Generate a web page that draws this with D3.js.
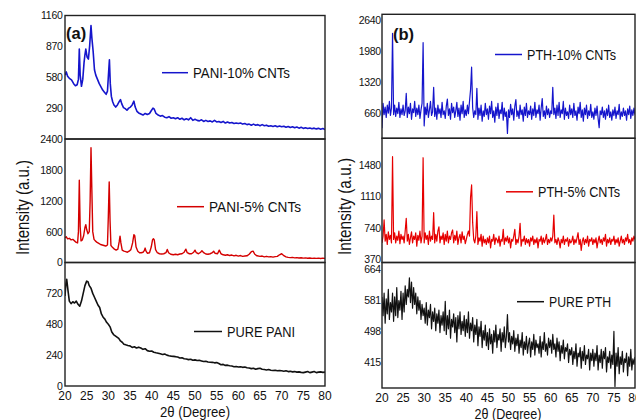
<!DOCTYPE html>
<html>
<head>
<meta charset="utf-8">
<script src="https://cdn.jsdelivr.net/npm/d3@7"></script>
<style>
  body { margin: 0; background: #fff; }
  svg { display: block; font-family: "Liberation Sans", Arial, sans-serif; }
</style>
</head>
<body>
<div id="chart"></div>
<script>
// 2-theta ticks shared by both columns
const angleTicks = [20, 25, 30, 35, 40, 45, 50, 55, 60, 65, 70, 75, 80];

// y tick labels, one list per sub panel
const pani10Ticks = [290, 580, 870, 1160];
const pani5Ticks = [0, 600, 1200, 1800, 2400];
const paniTicks = [0, 240, 480, 720];
const pth10Ticks = [660, 1320, 1980, 2640];
const pth5Ticks = [370, 740, 1110, 1480];
const pthTicks = [415, 498, 581, 664];

// (a) PANI patterns, [2theta, intensity]
const pani10 = [[20,600],[20.3,630],[20.6,590],[21,570],[21.5,555],[22,520],[22.4,500],[22.8,510],[23.1,560],[23.3,845],[23.5,600],[23.8,495],[24.1,560],[24.4,720],[24.6,790],[24.8,845],[25.1,770],[25.4,750],[25.7,880],[26,1065],[26.2,950],[26.5,820],[26.8,650],[27.1,600],[27.5,560],[27.9,520],[28.3,490],[28.7,460],[29.1,440],[29.5,420],[29.8,450],[30.1,650],[30.25,745],[30.45,520],[30.7,400],[31,350],[31.3,320],[31.7,300],[32.1,320],[32.5,350],[32.8,370],[33.1,330],[33.5,295],[33.9,285],[34.3,270],[34.7,290],[35.1,300],[35.5,320],[35.9,355],[36.2,300],[36.6,260],[37,245],[37.5,235],[38,225],[38.5,240],[39,230],[39.5,240],[39.9,265],[40.3,290],[40.6,280],[41,240],[41.5,225],[42,215],[42.5,220],[43,205],[43.5,200],[44,210],[44.5,195],[45,200],[45.5,190],[46,200],[46.5,185],[47,195],[47.5,180],[48,190],[48.5,180],[49,200],[49.5,175],[50,185],[50.5,175],[51,170],[51.5,180],[52,165],[52.5,175],[53,165],[53.5,170],[54,160],[54.5,175],[55,160],[55.5,165],[56,155],[56.5,165],[57,150],[57.5,160],[58,150],[58.5,155],[59,145],[59.5,150],[60,145],[60.5,150],[61,140],[61.5,145],[62,135],[62.5,140],[63,130],[63.5,140],[64,130],[64.5,135],[65,125],[65.5,135],[66,125],[66.5,130],[67,120],[67.5,125],[68,118],[68.5,125],[69,115],[69.5,122],[70,115],[70.5,120],[71,110],[71.5,118],[72,108],[72.5,115],[73,105],[73.5,112],[74,102],[74.5,110],[75,100],[75.5,105],[76,98],[76.5,104],[77,96],[77.5,102],[78,95],[78.5,100],[79,92],[79.5,98],[80,88]];

const pani5 = [[20,480],[20.3,500],[20.6,460],[21,470],[21.4,440],[21.8,450],[22.2,420],[22.6,390],[22.9,380],[23.1,600],[23.3,1600],[23.5,700],[23.7,420],[24,440],[24.3,520],[24.6,680],[24.8,735],[25,640],[25.3,560],[25.6,600],[25.8,1200],[26,2230],[26.2,1400],[26.4,600],[26.7,450],[27,420],[27.4,390],[27.8,370],[28.2,350],[28.6,340],[29,330],[29.4,320],[29.8,340],[30,900],[30.2,1567],[30.4,800],[30.6,330],[31,290],[31.4,260],[31.8,240],[32.2,260],[32.5,400],[32.7,513],[32.9,380],[33.2,240],[33.6,220],[34,210],[34.4,200],[34.8,220],[35.2,250],[35.6,380],[35.9,540],[36.1,520],[36.4,300],[36.8,220],[37.2,190],[37.6,190],[38,200],[38.3,230],[38.5,280],[38.7,220],[39,180],[39.5,190],[39.9,300],[40.2,440],[40.4,462],[40.6,440],[40.9,250],[41.3,190],[41.8,170],[42.3,165],[42.8,170],[43.3,190],[43.6,254],[43.9,190],[44.4,160],[45,150],[45.5,160],[46,150],[46.5,165],[47,170],[47.5,200],[47.9,260],[48.2,190],[48.7,170],[49.2,170],[49.7,200],[50,240],[50.3,190],[50.8,170],[51.3,200],[51.6,230],[52,190],[52.5,165],[53,160],[53.5,170],[54,190],[54.3,220],[54.6,180],[55.2,170],[55.6,240],[56,170],[56.5,150],[57,140],[57.5,150],[58,135],[58.5,145],[59,130],[59.5,140],[60,125],[60.5,135],[61,120],[61.5,125],[62,130],[62.5,160],[63,210],[63.4,220],[63.8,160],[64.3,130],[65,120],[65.5,125],[66,110],[66.5,120],[67,110],[67.5,115],[68,105],[68.5,115],[69,120],[69.5,150],[70,170],[70.4,140],[71,110],[71.5,100],[72,95],[72.5,100],[73,90],[73.5,95],[74,88],[74.5,92],[75,85],[75.5,90],[76,82],[76.5,88],[77,80],[77.5,86],[78,80],[78.5,85],[79,78],[79.5,84],[80,80]];

const paniPure = [[20,700],[20.2,790],[20.4,830],[20.7,740],[21,660],[21.4,640],[21.8,655],[22.2,645],[22.6,660],[23,635],[23.4,620],[23.8,660],[24.2,720],[24.6,780],[25,815],[25.3,810],[25.6,780],[26,760],[26.4,720],[26.8,690],[27.2,660],[27.6,630],[28,610],[28.4,560],[28.8,535],[29.2,520],[29.6,495],[30,480],[30.4,460],[30.8,420],[31.2,400],[31.6,390],[32,380],[32.4,370],[32.8,350],[33.2,340],[33.6,325],[34,320],[34.5,315],[35,312],[35.5,300],[36,305],[36.5,295],[37,302],[37.5,295],[38,285],[38.5,290],[39,275],[39.5,270],[40,272],[40.5,262],[41,258],[41.5,255],[42,250],[42.5,245],[43,248],[43.5,240],[44,235],[44.5,232],[45,230],[45.5,228],[46,225],[46.5,218],[47,220],[47.5,212],[48,210],[48.5,205],[49,208],[49.5,200],[50,203],[50.5,198],[51,200],[51.5,195],[52,190],[52.5,192],[53,186],[53.5,185],[54,184],[54.5,180],[55,182],[55.5,175],[56,165],[56.5,168],[57,160],[57.5,162],[58,158],[58.5,155],[59,150],[59.5,152],[60,148],[60.5,150],[61,145],[61.5,148],[62,142],[62.5,140],[63,135],[63.5,138],[64,130],[64.5,135],[65,138],[65.5,130],[66,128],[66.5,125],[67,128],[67.5,122],[68,120],[68.5,123],[69,118],[69.5,120],[70,118],[70.5,115],[71,118],[71.5,112],[72,114],[72.5,110],[73,112],[73.5,108],[74,110],[74.5,106],[75,104],[75.5,108],[76,112],[76.5,104],[77,108],[77.5,112],[78,104],[78.5,108],[79,110],[79.5,106],[80,108]];

// (b) PTH patterns, sampled every 0.25 deg from 20 to 80
const pthStep = 0.25;
const pth10 = [
  330,860,620,780,560,820,650,900,600,760,2350,620,820,580,760,640,880,560,740,620,
  820,600,700,1070,560,780,640,860,520,740,660,900,580,760,620,820,540,720,860,2150,
  380,780,620,860,560,720,900,600,680,1200,580,760,520,820,640,740,560,880,620,700,
  540,800,950,600,740,520,860,660,780,560,700,880,580,760,500,820,640,900,560,720,
  600,820,640,900,1150,1630,760,560,700,620,1180,520,760,600,820,480,700,580,860,620,
  740,520,800,640,900,560,700,460,780,600,860,540,720,640,880,500,760,580,680,220,
  720,560,840,620,740,500,800,940,580,700,540,820,620,720,480,780,600,860,560,700,
  620,800,520,740,600,880,560,720,640,820,500,760,960,580,700,540,800,620,740,560,
  700,640,1200,620,760,540,820,600,880,560,720,640,900,520,760,600,680,540,820,620,
  740,560,860,600,700,500,780,640,880,560,720,480,760,620,820,540,700,600,840,560,
  680,520,760,600,800,540,340,700,620,780,560,700,520,740,600,820,560,680,500,720,
  600,780,540,700,620,840,520,680,580,760,600,700,500,740,620,800,540,720,600,760,
  620];
const pth5 = [
  560,640,832,580,660,540,690,600,650,560,1584,600,680,560,640,590,700,550,660,600,
  640,560,700,852,580,660,540,620,690,560,640,600,680,520,650,590,700,560,640,1572,
  560,680,600,650,540,700,580,640,600,918,560,660,580,700,750,560,640,600,680,540,
  660,580,700,560,640,600,680,713,560,650,590,700,540,620,660,560,690,600,640,550,
  600,660,700,640,1100,1248,800,600,560,640,930,540,620,580,660,520,640,560,600,540,
  620,560,640,500,600,580,660,540,620,600,560,640,520,600,580,720,540,620,580,640,
  560,620,500,600,580,640,720,540,600,560,640,792,520,600,580,640,540,610,560,600,
  520,620,580,640,540,600,560,620,500,600,580,640,540,620,560,600,660,540,600,560,
  620,580,640,891,560,600,540,620,580,500,600,560,640,540,600,580,620,520,600,560,
  580,640,540,600,560,620,680,540,600,470,580,620,540,600,560,640,520,600,580,620,
  540,600,560,620,500,580,640,560,600,540,620,580,660,520,600,560,620,540,600,580,
  640,540,600,560,620,520,580,640,560,600,540,620,580,660,560,600,540,620,580,640,
  600];
const pthPure = [
  590,540,600,520,585,545,610,530,575,550,600,525,590,540,615,535,580,555,605,530,
  600,550,620,570,610,590,641,575,630,560,615,570,600,545,590,555,580,530,570,540,
  560,520,575,515,555,535,570,505,550,525,560,500,545,520,555,495,540,515,550,500,
  578,490,540,505,555,480,530,510,545,495,535,470,540,505,550,490,525,500,540,485,
  530,495,550,480,520,500,535,470,515,490,530,460,510,485,525,455,500,475,515,460,
  495,450,505,465,490,440,500,470,515,455,490,475,505,445,495,470,510,455,485,543,
  470,495,450,485,465,500,445,480,460,490,440,475,455,495,435,470,450,485,440,465,
  480,430,470,450,490,435,475,455,465,440,485,430,470,450,495,445,465,435,480,455,
  475,440,490,450,465,430,480,445,470,420,460,440,475,425,455,445,465,415,450,435,
  455,410,445,425,465,405,440,430,455,400,445,420,460,410,435,425,450,395,440,420,
  450,405,440,420,460,395,435,415,450,400,445,425,455,390,430,415,445,400,435,410,
  498,351,440,405,455,385,430,410,445,390,425,415,440,380,430,405,450,395,425,410,
  430];

const blue = "#1515cc", red = "#d40000", redB = "#e60000";

function withAngles(values) {
  return values.map(function(v, i) { return [20 + i * pthStep, v]; });
}

// layout of the six sub panels
let panels = [
  {data: pani10, ticks: pani10Ticks, domain: [0, 1160], x0: 65, x1: 325, y0: 15.5, y1: 139, color: blue, lw: 1.6,
   name: "PANI-10% CNTs", lx: 162, ly: 72.7, lw2: 26, tw: 97},
  {data: pani5, ticks: pani5Ticks, domain: [0, 2400], x0: 65, x1: 325, y0: 139, y1: 262.5, color: red, lw: 1.4,
   name: "PANI-5% CNTs", lx: 177, ly: 206.7, lw2: 27, tw: 92},
  {data: paniPure, ticks: paniTicks, domain: [0, 960], x0: 65, x1: 325, y0: 262.5, y1: 386, color: "#111", lw: 1.6,
   name: "PURE PANI", lx: 194, ly: 331.5, lw2: 28, tw: 68},
  {data: withAngles(pth10), ticks: pth10Ticks, domain: [115, 2755], x0: 382, x1: 635, y0: 14.3, y1: 138.3, color: blue, lw: 1.2,
   name: "PTH-10% CNTs", lx: 495, ly: 54.5, lw2: 27, tw: 89},
  {data: withAngles(pth5), ticks: pth5Ticks, domain: [326, 1803], x0: 382, x1: 635, y0: 138.3, y1: 262.5, color: redB, lw: 1.2,
   name: "PTH-5% CNTs", lx: 506, ly: 191.8, lw2: 27, tw: 82},
  {data: withAngles(pthPure), ticks: pthTicks, domain: [347, 682], x0: 382, x1: 635, y0: 262.5, y1: 388, color: "#111", lw: 1.2,
   name: "PURE PTH", lx: 517, ly: 301.7, lw2: 27, tw: 62}
];

let svg = d3.select("#chart")
  .append("svg")
    .attr("width", 636)
    .attr("height", 420);

panels.forEach(function(p, k) {
  let x = d3.scaleLinear().domain([20, 80]).range([p.x0, p.x1]);
  let y = d3.scaleLinear().domain(p.domain).range([p.y1, p.y0]);

  svg.append("clipPath")
      .attr("id", "clip" + k)
    .append("rect")
      .attr("x", p.x0).attr("y", p.y0)
      .attr("width", p.x1 - p.x0).attr("height", p.y1 - p.y0);

  // the pattern
  svg.append("path")
    .datum(p.data)
    .attr("clip-path", "url(#clip" + k + ")")
    .attr("fill", "none")
    .attr("stroke", p.color)
    .attr("stroke-width", p.lw)
    .attr("stroke-linejoin", "round")
    .attr("d", d3.line()
        .x(function(d) { return x(d[0]); })
        .y(function(d) { return y(d[1]); }));

  // y tick labels only, no tick marks
  let ax = svg.append("g")
    .attr("transform", "translate(" + p.x0 + ",0)")
    .call(d3.axisLeft(y).tickValues(p.ticks).tickFormat(d3.format("d"))
      .tickSize(0).tickPadding(p.x0 < 300 ? 2.5 : 1.2));
  ax.select(".domain").remove();
  ax.selectAll("text")
    .attr("font-family", "Liberation Sans, Arial, sans-serif")
    .attr("font-size", "10.5px")
    .attr("letter-spacing", "-0.3px")
    .attr("fill", "#111");

  // frame
  svg.append("rect")
    .attr("x", p.x0).attr("y", p.y0)
    .attr("width", p.x1 - p.x0).attr("height", p.y1 - p.y0)
    .attr("fill", "none")
    .attr("stroke", "#222")
    .attr("stroke-width", 1.4);

  // legend
  svg.append("line")
    .attr("x1", p.lx).attr("x2", p.lx + p.lw2)
    .attr("y1", p.ly).attr("y2", p.ly)
    .attr("stroke", p.color)
    .attr("stroke-width", 1.5);
  svg.append("text")
    .attr("x", p.lx + p.lw2 + 5)
    .attr("y", p.ly + 5)
    .attr("font-size", "14px")
    .attr("textLength", p.tw)
    .attr("lengthAdjust", "spacingAndGlyphs")
    .attr("fill", "#111")
    .text(p.name);

  // x tick labels under the bottom panels
  if (k === 2 || k === 5) {
    svg.append("g")
      .selectAll("text")
      .data(angleTicks)
      .enter()
      .append("text")
        .attr("x", function(d) { return x(d); })
        .attr("y", p.y1 + 13.5)
        .attr("text-anchor", "middle")
        .attr("font-size", "12px")
        .attr("fill", "#111")
        .text(function(d) { return d; });
  }
});

// axis titles
[{cx: 195, cy: 417, w: 70}, {cx: 508, cy: 418.5, w: 67}].forEach(function(t) {
  svg.append("text")
    .attr("x", t.cx).attr("y", t.cy)
    .attr("text-anchor", "middle")
    .attr("font-size", "15px")
    .attr("textLength", t.w)
    .attr("lengthAdjust", "spacingAndGlyphs")
    .attr("fill", "#111")
    .text("2θ (Degree)");
});
[{bx: 29, cy: 207.5, w: 95}, {bx: 351, cy: 206.5, w: 97}].forEach(function(t) {
  svg.append("text")
    .attr("transform", "translate(" + t.bx + "," + t.cy + ") rotate(-90)")
    .attr("text-anchor", "middle")
    .attr("font-size", "19px")
    .attr("textLength", t.w)
    .attr("lengthAdjust", "spacingAndGlyphs")
    .attr("fill", "#111")
    .text("Intensity (a.u.)");
});

// panel letters
svg.append("text").attr("x", 66).attr("y", 38.5)
  .attr("font-size", "16.5px").attr("font-weight", "bold").attr("fill", "#111").text("(a)");
svg.append("text").attr("x", 393).attr("y", 39.5)
  .attr("font-size", "16.5px").attr("font-weight", "bold").attr("fill", "#111").text("(b)");
</script>
</body>
</html>
